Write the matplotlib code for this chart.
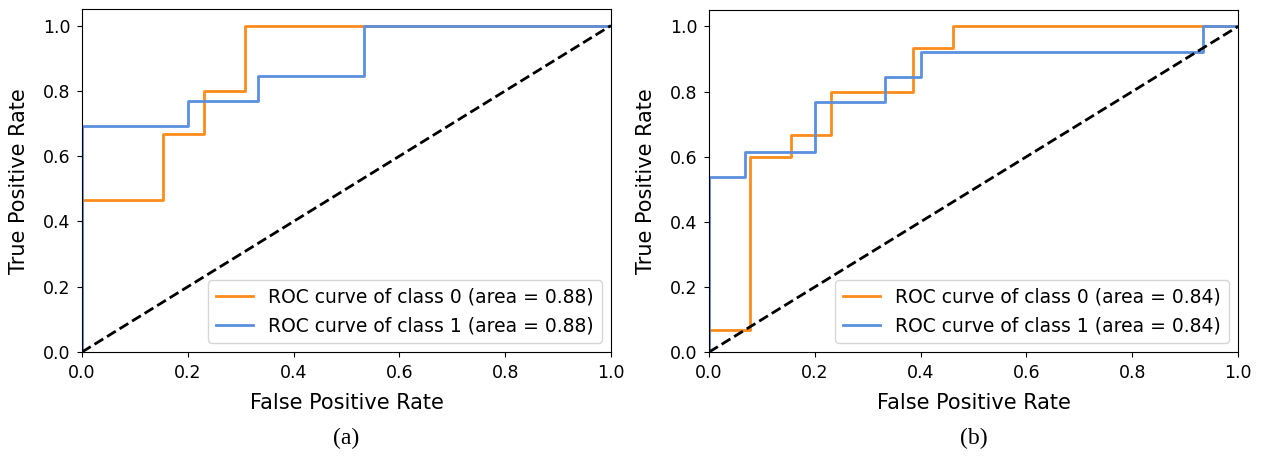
import numpy as np
import matplotlib
matplotlib.use('Agg')
import matplotlib.pyplot as plt

# --- data (step ROC curves) ---
fpr_a0 = [0.0, 0.0, 0.154, 0.154, 0.231, 0.231, 0.308, 0.308, 1.0]
tpr_a0 = [0.0, 0.467, 0.467, 0.667, 0.667, 0.8, 0.8, 1.0, 1.0]
fpr_a1 = [0.0, 0.0, 0.2, 0.2, 0.333, 0.333, 0.533, 0.533, 1.0]
tpr_a1 = [0.0, 0.692, 0.692, 0.769, 0.769, 0.846, 0.846, 1.0, 1.0]

fpr_b0 = [0.0, 0.0, 0.077, 0.077, 0.154, 0.154, 0.231, 0.231, 0.385, 0.385, 0.462, 0.462, 1.0]
tpr_b0 = [0.0, 0.067, 0.067, 0.6, 0.6, 0.667, 0.667, 0.8, 0.8, 0.933, 0.933, 1.0, 1.0]
fpr_b1 = [0.0, 0.0, 0.067, 0.067, 0.2, 0.2, 0.333, 0.333, 0.4, 0.4, 0.933, 0.933, 1.0]
tpr_b1 = [0.0, 0.538, 0.538, 0.615, 0.615, 0.769, 0.769, 0.846, 0.846, 0.923, 0.923, 1.0, 1.0]

auc_a = [0.88, 0.88]
auc_b = [0.84, 0.84]
captions = ["(a)", "(b)"]
colors = ["#ff8c1a", "#5b8fdf"]


def plot_roc(ax, curves, aucs):
    for (fpr, tpr), auc, color, cls in zip(curves, aucs, colors, [0, 1]):
        ax.plot(fpr, tpr, color=color, lw=2,
                label=f"ROC curve of class {cls} (area = {auc:.2f})")
    ax.plot([0, 1], [0, 1], "k--", lw=2)
    ax.set_xlim(0.0, 1.0)
    ax.set_ylim(0.0, 1.05)
    ax.set_xlabel("False Positive Rate", fontsize=15, labelpad=8)
    ax.set_ylabel("True Positive Rate", fontsize=15, labelpad=10)
    ax.tick_params(labelsize=12.5, pad=5)
    ax.legend(loc="lower right", fontsize=13.5)


fig = plt.figure(figsize=(12.61, 4.62), dpi=100)
ax1 = fig.add_axes([0.065, 0.238, 0.4195, 0.742])
ax2 = fig.add_axes([0.5623, 0.238, 0.4195, 0.740])

plot_roc(ax1, [(fpr_a0, tpr_a0), (fpr_a1, tpr_a1)], auc_a)
plot_roc(ax2, [(fpr_b0, tpr_b0), (fpr_b1, tpr_b1)], auc_b)

for ax, cap in zip([ax1, ax2], captions):
    bbox = ax.get_position()
    fig.text((bbox.x0 + bbox.x1) / 2, 0.05, cap, ha="center", va="center",
             fontsize=17, family="Liberation Serif")

fig.savefig("out.png", dpi=100)
